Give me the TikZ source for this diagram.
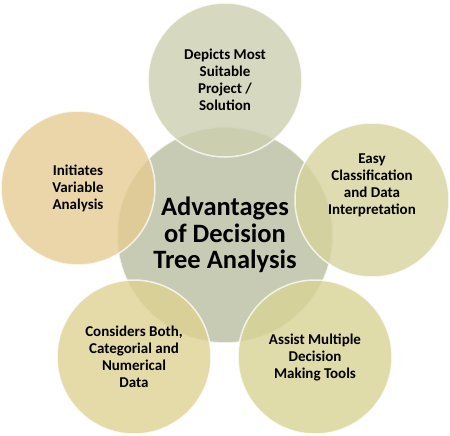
\documentclass[tikz,border=0pt]{standalone}
\usepackage{fontspec}
\setmainfont{Carlito}

\definecolor{hubgrey}{HTML}{C7CBB3}
\definecolor{topsage}{HTML}{CCCFAF}
\definecolor{lefttan}{HTML}{E5CC92}
\definecolor{rightolive}{HTML}{D6D39C}
\definecolor{lowleft}{HTML}{DED292}
\definecolor{lowright}{HTML}{D8D395}

\tikzset{
  bubble/.style={circle, minimum size=154pt, inner sep=0pt, align=center,
    fill opacity=0.8, text opacity=1, draw=white, draw opacity=0.75,
    line width=1.5pt, font=\fontsize{15}{17}\selectfont\bfseries},
  hublabel/.style={align=center, font=\fontsize{26.5}{26.5}\selectfont\bfseries},
}

\begin{document}
\begin{tikzpicture}[x=1pt,y=-1pt]
\useasboundingbox (0,0) rectangle (450,436);

% centre disc
\node[circle, minimum size=216pt, inner sep=0pt, fill=hubgrey,
      draw=white, draw opacity=0.75, line width=1.5pt] (hub) at (225,235) {};

% outer discs
\node[bubble, fill=topsage]    (suitable) at (225,80)  {Depicts Most\\Suitable\\Project /\\Solution};
\node[bubble, fill=lefttan]    (variable) at (78,188)  {Initiates\\Variable\\Analysis};
\node[bubble, fill=rightolive] (classify) at (372,200) {};
\node[bubble, fill=lowleft]    (both)     at (134,357) {Considers Both,\\Categorial and\\Numerical\\Data};
\node[bubble, fill=lowright]   (tools)    at (315,357) {Assist Multiple\\Decision\\Making Tools};

% texts on top
\node[align=center, font=\fontsize{15}{17}\selectfont\bfseries] (classifytext) at (372,185)
  {Easy\\Classification\\and Data\\Interpretation};
\node[hublabel] (hubtext) at (hub) {Advantages\\of Decision\\Tree Analysis};

\end{tikzpicture}
\end{document}
